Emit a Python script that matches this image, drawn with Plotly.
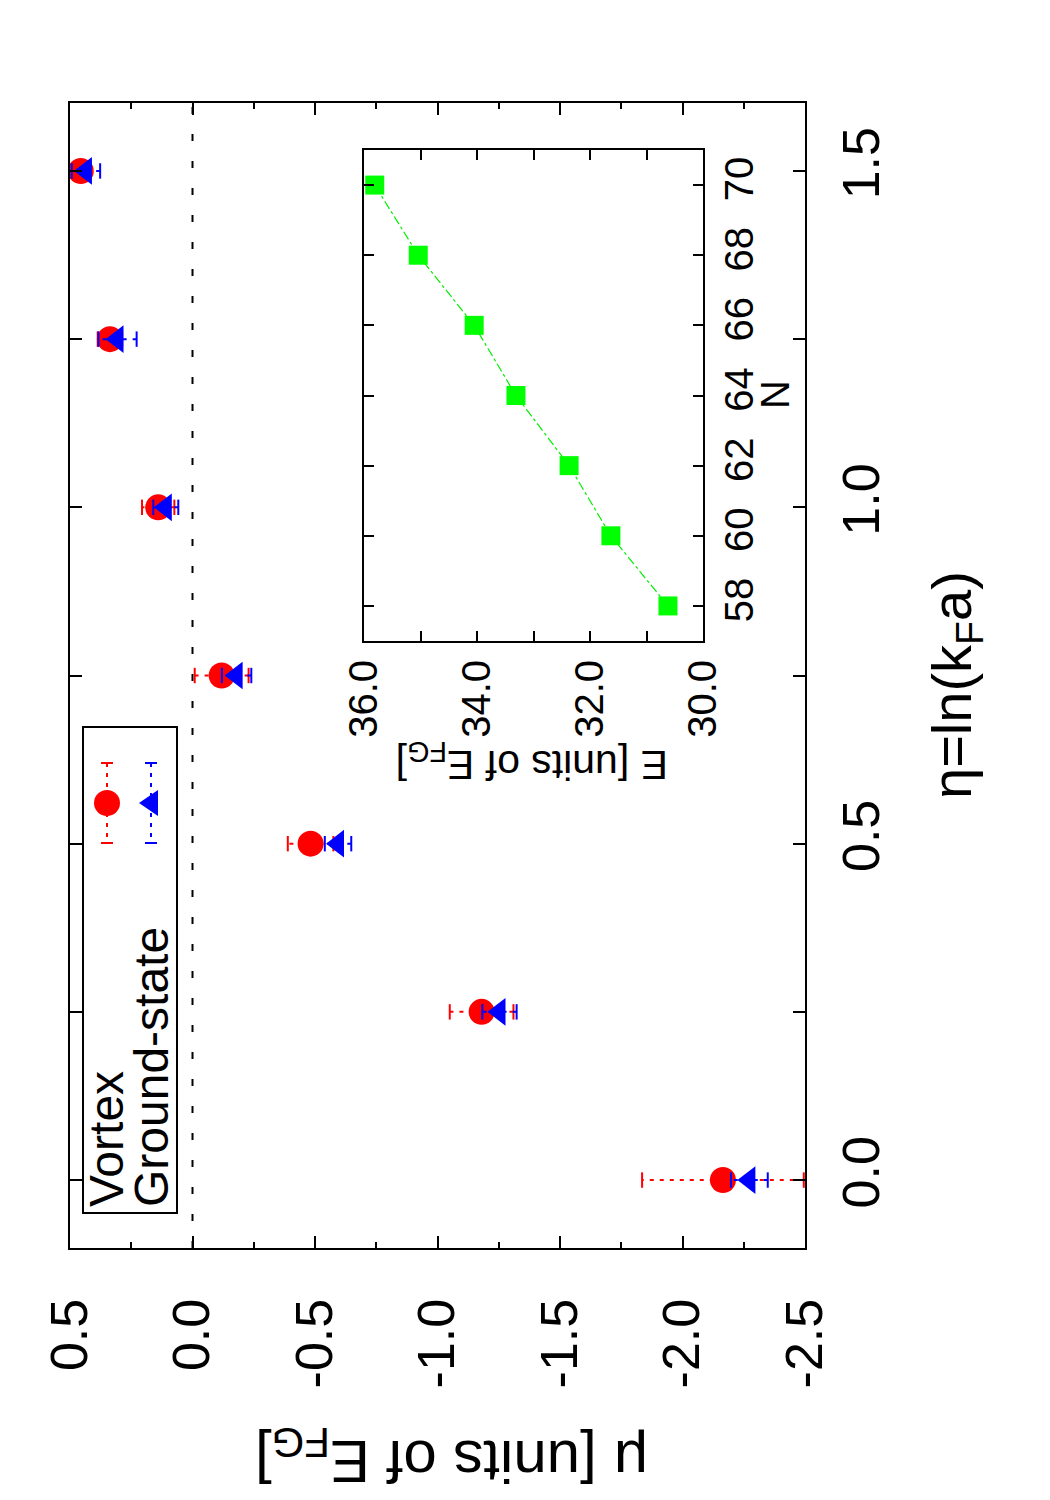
import plotly.graph_objects as go

# ---------------- data ----------------
eta = [0.0, 0.25, 0.5, 0.75, 1.0, 1.25, 1.5]
mu_vortex = [-2.165, -1.18, -0.482, -0.119, 0.14, 0.337, 0.456]
err_vortex = [0.33, 0.13, 0.093, 0.11, 0.066, 0.05, 0.04]
mu_ground = [-2.273, -1.253, -0.594, -0.18, 0.109, 0.306, 0.435]
err_ground = [0.075, 0.07, 0.054, 0.06, 0.051, 0.078, 0.058]

N_inset = [58, 60, 62, 64, 66, 68, 70]
E_inset = [30.62, 31.63, 32.37, 33.31, 34.05, 35.04, 35.81]

mu_tickvals = [0.5, 0.0, -0.5, -1.0, -1.5, -2.0, -2.5]
mu_ticktext = ["0.5", "0.0", "-0.5", "-1.0", "-1.5", "-2.0", "-2.5"]
eta_tickvals = [0.0, 0.5, 1.0, 1.5]
eta_ticktext = ["0.0", "0.5", "1.0", "1.5"]
E_tickvals = [36, 34, 32, 30]
E_ticktext = ["36.0", "34.0", "32.0", "30.0"]
N_tickvals = [58, 60, 62, 64, 66, 68, 70]
N_ticktext = ["58", "60", "62", "64", "66", "68", "70"]

legend_names = ["Vortex", "Ground-state"]

# ---------------- layout helpers ----------------
W, H = 1050, 1500
L, R, T, B = 70, 805, 103, 1248
FONT = "Liberation Sans, Arial, Helvetica, sans-serif"


def px(x):
    return (x - L) / (R - L)


def py(y):
    return (B - y) / (B - T)


def err_xy(vals, errs, ys):
    xs, yy = [], []
    for v, e, y in zip(vals, errs, ys):
        xs += [v - e, v + e, None]
        yy += [y, y, None]
    return xs, yy


fig = go.Figure()

# Vortex error bars + points
ex, ey = err_xy(mu_vortex, err_vortex, eta)
fig.add_trace(go.Scatter(
    x=ex, y=ey, mode="lines+markers", showlegend=False, hoverinfo="skip",
    line=dict(color="#ff0000", width=2, dash="4px,6px"),
    marker=dict(symbol="line-ns", size=11, line=dict(color="#ff0000", width=2)),
))
fig.add_trace(go.Scatter(
    x=mu_vortex, y=eta, mode="markers", name=legend_names[0], showlegend=False,
    marker=dict(symbol="circle", size=26, color="#ff0000", line=dict(width=0)),
))
# Ground-state error bars + points
gx, gy = err_xy(mu_ground, err_ground, eta)
fig.add_trace(go.Scatter(
    x=gx, y=gy, mode="lines+markers", showlegend=False, hoverinfo="skip",
    line=dict(color="#0000ff", width=2, dash="4px,6px"),
    marker=dict(symbol="line-ns", size=11, line=dict(color="#0000ff", width=2)),
))
fig.add_trace(go.Scatter(
    x=mu_ground, y=eta, mode="markers", name=legend_names[1], showlegend=False,
    marker=dict(symbol="triangle-left", size=24, color="#0000ff", line=dict(width=0)),
))

# Inset
fig.add_trace(go.Scatter(
    x=E_inset, y=N_inset, xaxis="x2", yaxis="y2", mode="lines+markers",
    showlegend=False,
    line=dict(color="#00ee00", width=1.2, dash="dashdot"),
    marker=dict(symbol="square", size=19, color="#00ff00", line=dict(width=0)),
))

axis_common = dict(
    showline=True, linecolor="black", linewidth=2, mirror="ticks",
    ticks="inside", tickcolor="black", tickwidth=2, showgrid=False,
    zeroline=False,
)

fig.update_layout(
    width=W, height=H,
    margin=dict(l=L, r=W - R, t=T, b=H - B, pad=0),
    paper_bgcolor="white", plot_bgcolor="white",
    font=dict(family=FONT, color="black"),
    showlegend=False,
    xaxis=dict(
        **axis_common, range=[0.5, -2.5], autorange=False,
        tickvals=mu_tickvals, ticktext=mu_ticktext, ticklen=12,
        tickangle=-90, tickfont=dict(size=52, family=FONT),
        ticklabelstandoff=28,
        minor=dict(dtick=0.25, tick0=0, ticks="inside", ticklen=6,
                   tickwidth=2, tickcolor="black"),
        domain=[0, 1], anchor="y",
    ),
    yaxis=dict(
        **axis_common, range=[-0.101, 1.601], autorange=False, side="right",
        tickvals=eta_tickvals, ticktext=eta_ticktext, ticklen=12,
        tickangle=-90, tickfont=dict(size=52, family=FONT),
        ticklabelstandoff=10,
        minor=dict(dtick=0.25, tick0=0, ticks="inside", ticklen=12,
                   tickwidth=2, tickcolor="black"),
        domain=[0, 1], anchor="x",
    ),
    xaxis2=dict(
        **axis_common, range=[36, 30], autorange=False,
        tickvals=E_tickvals, ticktext=E_ticktext, ticklen=10,
        tickangle=-90, tickfont=dict(size=40, family=FONT),
        ticklabelstandoff=1,
        minor=dict(dtick=1, tick0=30, ticks="inside", ticklen=10,
                   tickwidth=2, tickcolor="black"),
        domain=[px(364), px(703)], anchor="y2",
    ),
    yaxis2=dict(
        **axis_common, range=[57, 71], autorange=False, side="right",
        tickvals=N_tickvals, ticktext=N_ticktext, ticklen=10,
        tickangle=-90, tickfont=dict(size=40, family=FONT),
        ticklabelstandoff=0,
        domain=[py(641), py(150)], anchor="x2",
    ),
)

shapes = []
# zero dashed line
shapes.append(dict(type="line", xref="x", yref="y domain", x0=0, x1=0, y0=0, y1=1,
                   line=dict(color="black", width=2, dash="7px,20px"), layer="below"))
# legend box
shapes.append(dict(type="rect", xref="paper", yref="paper",
                   x0=px(83), x1=px(177), y0=py(1213), y1=py(727),
                   line=dict(color="black", width=2), fillcolor="white"))
# legend samples: error bars (vertical in picture) with caps
for cx, col in [(107, "#ff0000"), (151, "#0000ff")]:
    shapes.append(dict(type="line", xref="paper", yref="paper",
                       x0=px(cx), x1=px(cx), y0=py(763), y1=py(843),
                       line=dict(color=col, width=2, dash="4px,6px")))
    for yy in (763, 843):
        shapes.append(dict(type="line", xref="paper", yref="paper",
                           x0=px(cx - 6), x1=px(cx + 6), y0=py(yy), y1=py(yy),
                           line=dict(color=col, width=2)))
# red circle sample
shapes.append(dict(type="circle", xref="paper", yref="paper",
                   x0=px(107 - 13), x1=px(107 + 13), y0=py(803 + 13), y1=py(803 - 13),
                   fillcolor="#ff0000", line=dict(width=0)))
# blue triangle (pointing left) sample
tx, ty = 151, 803
shapes.append(dict(type="path", xref="paper", yref="paper",
                   path=f"M {px(tx - 12)} {py(ty)} L {px(tx + 7)} {py(ty - 13)} L {px(tx + 7)} {py(ty + 13)} Z",
                   fillcolor="#0000ff", line=dict(width=0)))
fig.update_layout(shapes=shapes)

annotations = [
    dict(text=legend_names[0], xref="paper", yref="paper", x=px(106), y=py(1209),
         xanchor="center", yanchor="bottom", textangle=-90, showarrow=False,
         font=dict(size=48, family=FONT)),
    dict(text=legend_names[1], xref="paper", yref="paper", x=px(151), y=py(1209),
         xanchor="center", yanchor="bottom", textangle=-90, showarrow=False,
         font=dict(size=48, family=FONT)),
    dict(text="μ [units of E<sub>FG</sub>]", xref="paper", yref="paper",
         x=px(452), y=py(1457), xanchor="center", yanchor="middle",
         textangle=180, showarrow=False, font=dict(size=60, family=FONT)),
    dict(text="η=ln(k<sub>F</sub>a)", xref="paper", yref="paper",
         x=px(955), y=py(685), xanchor="center", yanchor="middle",
         textangle=-90, showarrow=False, font=dict(size=56, family=FONT)),
    dict(text="E [units of E<sub>FG</sub>]", xref="paper", yref="paper",
         x=px(532), y=py(762), xanchor="center", yanchor="middle",
         textangle=180, showarrow=False, font=dict(size=41, family=FONT)),
    dict(text="N", xref="paper", yref="paper",
         x=px(775), y=py(395), xanchor="center", yanchor="middle",
         textangle=-90, showarrow=False, font=dict(size=40, family=FONT)),
]
fig.update_layout(annotations=annotations)

fig.write_html("out.html")
